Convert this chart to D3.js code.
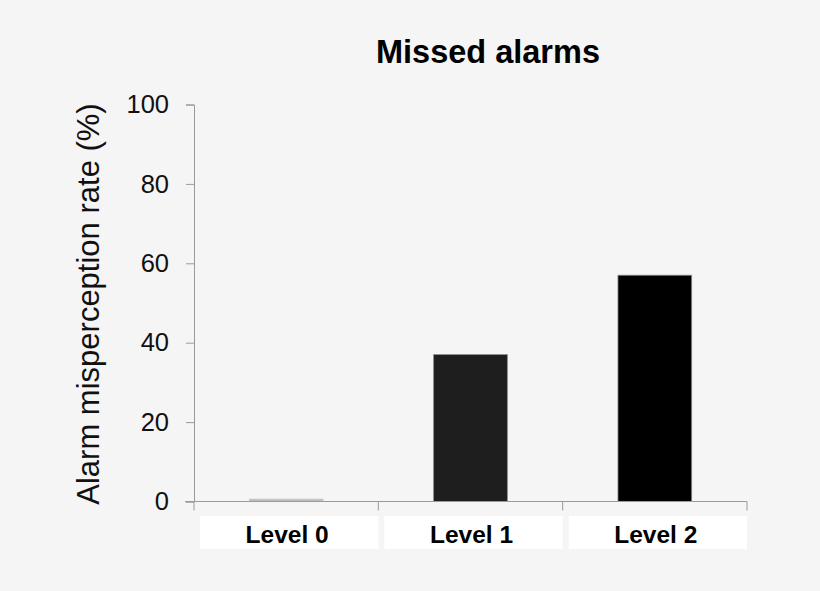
<!DOCTYPE html>
<html>
<head>
<meta charset="utf-8">
<script src="https://cdn.jsdelivr.net/npm/d3@7"></script>
<style>
  html, body { margin: 0; padding: 0; background: #f5f5f5; }
  svg { display: block; font-family: "Liberation Sans", Arial, sans-serif; }
</style>
</head>
<body>
<div id="chart"></div>
<script>
// data
const levels = ["Level 0", "Level 1", "Level 2"];
const rates = [0.6, 37, 57];
const barColors = ["#bdbdbd", "#1e1e1e", "#000000"];
const yTicks = [0, 20, 40, 60, 80, 100];

const width = 820;
const height = 591;
const axisColor = "#9a9a9a";

const svg = d3.select("#chart")
  .append("svg")
  .attr("width", width)
  .attr("height", height);

svg.append("rect")
  .attr("width", width)
  .attr("height", height)
  .attr("fill", "#f5f5f5");

const x = d3.scaleBand()
  .domain(levels)
  .range([194, 747])
  .padding(0);

const y = d3.scaleLinear()
  .domain([0, 100])
  .range([501.5, 104.5]);

// bars
const barW = x.bandwidth() * 0.4;
svg.append("g")
  .selectAll("rect")
  .data(levels)
  .join("rect")
  .attr("x", d => x(d) + (x.bandwidth() - barW) / 2)
  .attr("y", (d, i) => y(rates[i]))
  .attr("width", barW)
  .attr("height", (d, i) => y(0) - y(rates[i]))
  .attr("fill", (d, i) => barColors[i])
  .attr("stroke", (d, i) => i === 0 ? "#c8c8c8" : "#8a8a8a")
  .attr("stroke-width", 0.8);

// y axis
const yAxis = svg.append("g")
  .attr("transform", "translate(194,0)")
  .call(d3.axisLeft(y).tickValues(yTicks).tickSize(8).tickPadding(17));
yAxis.select(".domain").attr("stroke", axisColor);
yAxis.selectAll(".tick line").attr("stroke", axisColor);
yAxis.selectAll(".tick text")
  .attr("fill", "#111")
  .attr("font-size", 25.5)
  .attr("font-family", "Liberation Sans, Arial, sans-serif");

// x axis: baseline plus ticks at category boundaries
const xAxisG = svg.append("g");
xAxisG.append("line")
  .attr("x1", 185)
  .attr("x2", x.range()[1])
  .attr("y1", y(0))
  .attr("y2", y(0))
  .attr("stroke", axisColor);
const bounds = levels.map(d => x(d)).concat([x.range()[1]]);
xAxisG.selectAll("line.bound")
  .data(bounds)
  .join("line")
  .attr("class", "bound")
  .attr("x1", d => d)
  .attr("x2", d => d)
  .attr("y1", y(0))
  .attr("y2", y(0) + 9)
  .attr("stroke", axisColor);

// white label boxes with category names
const labels = svg.append("g");
labels.selectAll("rect")
  .data(levels)
  .join("rect")
  .attr("x", d => x(d) + 6)
  .attr("y", 516)
  .attr("width", x.bandwidth() - 6)
  .attr("height", 33)
  .attr("fill", "#ffffff");
labels.selectAll("text")
  .data(levels)
  .join("text")
  .attr("x", d => x(d) + x.bandwidth() / 2 + 1)
  .attr("y", 543)
  .attr("text-anchor", "middle")
  .attr("font-size", 24.5)
  .attr("font-weight", "bold")
  .attr("fill", "#000")
  .text(d => d);

// title
svg.append("text")
  .attr("x", 488)
  .attr("y", 63)
  .attr("text-anchor", "middle")
  .attr("font-size", 32.5)
  .attr("font-weight", "bold")
  .attr("fill", "#000")
  .text("Missed alarms");

// y axis label
svg.append("text")
  .attr("transform", "translate(99,304) rotate(-90)")
  .attr("text-anchor", "middle")
  .attr("font-size", 31)
  .attr("fill", "#111")
  .text("Alarm misperception rate (%)");
</script>
</body>
</html>
